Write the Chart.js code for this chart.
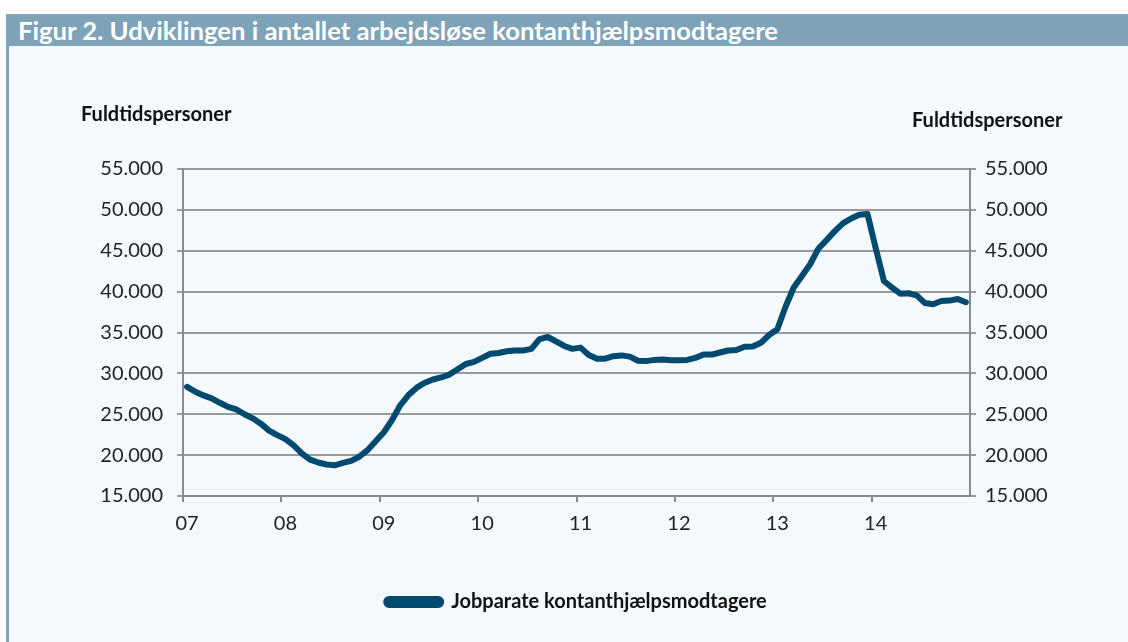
<!DOCTYPE html>
<html>
<head>
<meta charset="utf-8">
<script src="https://cdn.jsdelivr.net/npm/chart.js@4/dist/chart.umd.min.js"></script>
<style>
  body { margin: 0; background: #fff; width: 1128px; height: 642px; overflow: hidden; position: relative; font-family: Lato, sans-serif; }
  #banner { position: absolute; left: 6px; top: 14px; width: 1122px; height: 32px; background: #7ea3b9; overflow: hidden; }
  #banner span { position: absolute; left: 12px; top: 0; color: #fff; font-weight: bold; font-size: 25px; line-height: 32px; white-space: nowrap; transform-origin: 0 50%; }
  #panel { position: absolute; left: 6px; top: 46px; width: 1119px; height: 596px; background: #f4f9fd; border-left: 3px solid #7ea3b9; }
  .unit { position: absolute; font-weight: bold; font-size: 20px; line-height: 24px; color: #111; white-space: nowrap; }
  canvas { position: absolute; left: 0; top: 0; }
</style>
</head>
<body>
<div id="banner"><span id="title">Figur 2. Udviklingen i antallet arbejdsløse kontanthjælpsmodtagere</span></div>
<div id="panel">
  <canvas id="chart" width="1119" height="596"></canvas>
</div>
<div class="unit" style="left:81px; top:101px;">Fuldtidspersoner</div>
<div class="unit" style="left:912px; top:107px;">Fuldtidspersoner</div>
<script>
// monthly figures, Jan 2007 - Dec 2014
const years = ['07', '08', '09', '10', '11', '12', '13', '14'];
const seriesName = 'Jobparate kontanthjælpsmodtagere';
const jobparate = [
	28350, 27750, 27300, 26950, 26400, 25900, 25600, 25000, 24500, 23850, 23000, 22450,
	21950, 21200, 20200, 19450, 19100, 18850, 18750, 19050, 19300, 19800, 20600, 21700,
	22800, 24300, 26100, 27350, 28250, 28850, 29250, 29500, 29850, 30500, 31150, 31400,
	31900, 32400, 32500, 32700, 32800, 32800, 33000, 34200, 34450, 33900, 33350, 33000,
	33150, 32250, 31800, 31800, 32100, 32200, 32050, 31550, 31500, 31650, 31700, 31600,
	31600, 31650, 31900, 32300, 32300, 32550, 32800, 32850, 33250, 33300, 33750, 34700,
	35400, 38150, 40500, 41900, 43350, 45250, 46300, 47400, 48350, 48950, 49400, 49500,
	45300, 41300, 40500, 39750, 39800, 39550, 38600, 38450, 38850, 38900, 39100, 38700,
];
const yTicks = { min: 15000, max: 55000, step: 5000 };

const months = [];
years.forEach((y) => {
	for (let m = 1; m <= 12; m++) months.push(y + '-' + String(m).padStart(2, '0'));
});

// fit the banner text to the width it has in the original
const title = document.getElementById('title');
title.style.transform = 'scaleX(' + (760 / title.scrollWidth) + ')';

const lineColor = '#004a70';
const gridColor = '#9a9a9a';
const axisColor = '#8a8a8a';
const tickFont = { family: 'Lato', size: 20 };

const fmt = (v) => String(v).replace(/\B(?=(\d{3})+(?!\d))/g, '.');

const yScale = (pos, width, padding, onArea) => ({
	type: 'linear',
	position: pos,
	min: yTicks.min,
	max: yTicks.max,
	afterFit: (s) => { s.width = width; },
	border: { color: axisColor, width: 2 },
	grid: { color: gridColor, lineWidth: 2, tickLength: 6, drawOnChartArea: onArea },
	ticks: { stepSize: yTicks.step, color: '#222', font: tickFont, padding: padding, callback: fmt },
});

new Chart(document.getElementById('chart').getContext('2d'), {
	type: 'line',
	data: {
		labels: months,
		datasets: [
			{
				label: seriesName,
				data: jobparate,
				borderColor: lineColor,
				backgroundColor: lineColor,
				borderWidth: 6,
				borderJoinStyle: 'round',
				borderCapStyle: 'round',
				pointRadius: 0,
				tension: 0,
				yAxisID: 'y',
			},
		],
	},
	options: {
		responsive: false,
		animation: false,
		layout: { padding: { left: 16, right: 0, top: 123, bottom: 20 } },
		scales: {
			x: {
				type: 'category',
				offset: true,
				afterFit: (s) => { s.height = 86; },
				border: { color: axisColor, width: 2 },
				grid: {
					offset: true,
					drawOnChartArea: false,
					tickLength: 6,
					lineWidth: 2,
					color: (c) => (c.index % 12 === 0 ? axisColor : 'rgba(0,0,0,0)'),
				},
				ticks: {
					autoSkip: false,
					maxRotation: 0,
					padding: 10,
					color: '#222',
					font: tickFont,
					callback: (v, i) => (i % 12 === 0 ? years[i / 12] : ''),
				},
			},
			y: yScale('left', 158, 14, true),
			y2: yScale('right', 158, 9, false),
		},
		plugins: {
			legend: {
				position: 'bottom',
				labels: {
					boxWidth: 55,
					boxHeight: 6,
					useBorderRadius: true,
					borderRadius: 3,
					padding: 10,
					color: '#111',
					font: { family: 'Lato', size: 20, weight: 'bold' },
				},
			},
			tooltip: { enabled: false },
		},
	},
});
</script>
</body>
</html>
